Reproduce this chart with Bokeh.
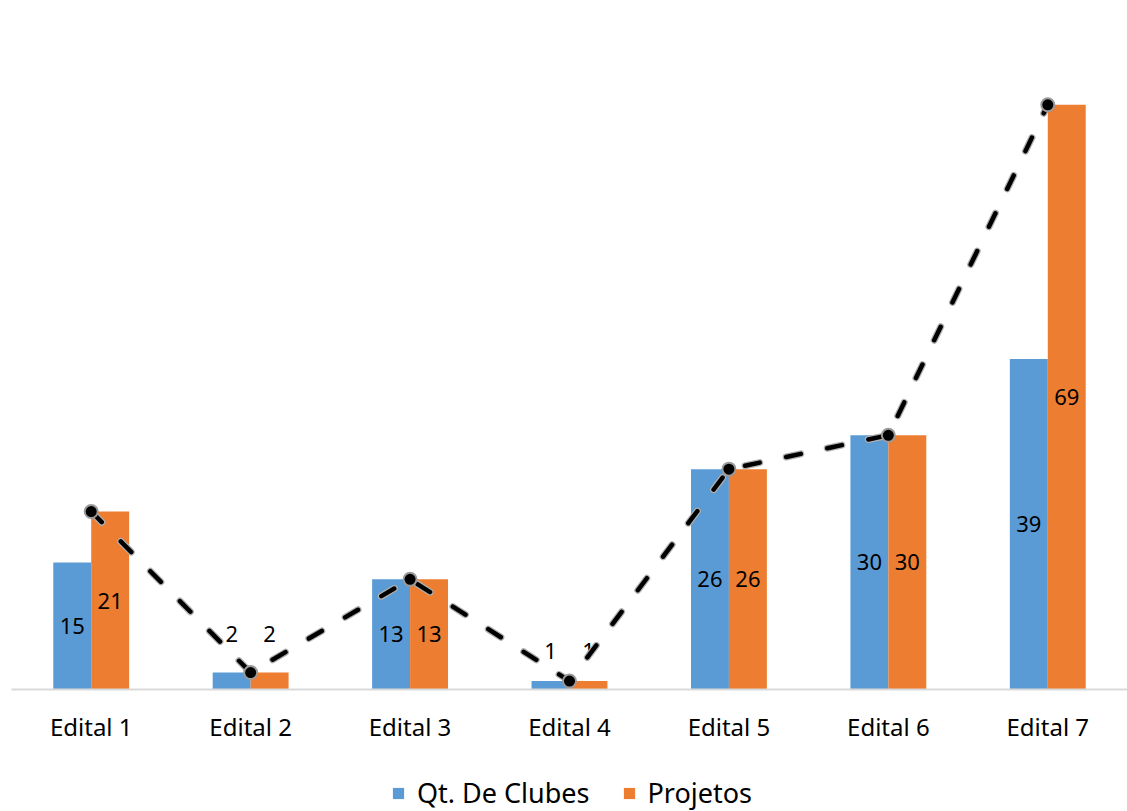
from bokeh.plotting import figure
from bokeh.models import ColumnDataSource, Legend, LegendItem, FactorRange, Range1d
from bokeh.layouts import column
from bokeh.transform import dodge
from bokeh.core.properties import value
from bokeh.embed import file_html
from bokeh.resources import INLINE

categories = ["Edital 1", "Edital 2", "Edital 3", "Edital 4", "Edital 5", "Edital 6", "Edital 7"]
clubes = [15, 2, 13, 1, 26, 30, 39]
projetos = [21, 2, 13, 1, 26, 30, 69]
series_names = ["Qt. De Clubes", "Projetos"]

BLUE = "#5B9BD5"
ORANGE = "#ED7D31"
FONT = "Noto Sans"

def label_pos(v):
    # centred in the bar, or lifted above very short bars
    return v / 2 if v >= 10 else 2 * v + 2.6

src = ColumnDataSource(dict(
    cat=categories,
    clubes=clubes,
    projetos=projetos,
    clubes_txt=[str(v) for v in clubes],
    projetos_txt=[str(v) for v in projetos],
    clubes_y=[label_pos(v) for v in clubes],
    projetos_y=[label_pos(v) for v in projetos],
))

p = figure(x_range=FactorRange(*categories, range_padding=0), y_range=(0, 78),
           frame_width=1116, frame_height=661, output_backend="svg", toolbar_location=None,
           y_axis_location=None, min_border_left=11, min_border_right=0,
           min_border_top=28, min_border_bottom=61)
p.outline_line_color = None
p.xgrid.grid_line_color = None
p.ygrid.grid_line_color = None

bw = 0.238
p.vbar(x=dodge("cat", -bw / 2, range=p.x_range), top="clubes", width=bw,
       source=src, fill_color=BLUE, line_color=None)
p.vbar(x=dodge("cat", bw / 2, range=p.x_range), top="projetos", width=bw,
       source=src, fill_color=ORANGE, line_color=None)

p.text(x=dodge("cat", -bw / 2, range=p.x_range), y="clubes_y", text="clubes_txt",
       source=src, text_align="center", text_baseline="middle",
       text_font=value(FONT), text_font_size="22px", text_color="#000000")
p.text(x=dodge("cat", bw / 2, range=p.x_range), y="projetos_y", text="projetos_txt",
       source=src, text_align="center", text_baseline="middle",
       text_font=value(FONT), text_font_size="22px", text_color="#000000")

p.line(x="cat", y="projetos", source=src, line_color="#b0b0b0", line_width=7,
       line_dash="15 27", line_cap="round")
p.line(x="cat", y="projetos", source=src, line_color="#000000", line_width=4.5,
       line_dash="15 27", line_cap="round")
p.scatter(x="cat", y="projetos", source=src, size=13, fill_color="#000000",
          line_color="#9a9a9a", line_width=2)

ax = p.xaxis[0]
ax.axis_line_color = "#D9D9D9"
ax.axis_line_width = 2
ax.major_tick_line_color = None
ax.minor_tick_line_color = None
ax.major_label_standoff = 14
ax.major_label_text_font = FONT
ax.major_label_text_font_size = "24px"
ax.major_label_text_color = "#000000"

# legend strip below the chart (its bars lie far below its visible y range)
lg = figure(width=1127, height=61, output_backend="svg", toolbar_location=None,
            x_range=p.x_range, y_range=Range1d(1000, 1001),
            x_axis_location=None, y_axis_location=None,
            min_border_left=0, min_border_right=0, min_border_top=0, min_border_bottom=0)
lg.outline_line_color = None
lg.xgrid.grid_line_color = None
lg.ygrid.grid_line_color = None
lb = lg.vbar(x=dodge("cat", -bw / 2, range=p.x_range), top="clubes", width=bw,
             source=src, fill_color=BLUE, line_color=None)
lo = lg.vbar(x=dodge("cat", bw / 2, range=p.x_range), top="projetos", width=bw,
             source=src, fill_color=ORANGE, line_color=None)
legend = Legend(items=[LegendItem(label=series_names[0], renderers=[lb]),
                       LegendItem(label=series_names[1], renderers=[lo])],
                orientation="horizontal", location=(380, 0),
                label_text_font=FONT, label_text_font_size="27px",
                label_text_color="#000000", glyph_width=14, glyph_height=14,
                label_standoff=12, spacing=32, border_line_color=None,
                background_fill_alpha=0, padding=0, margin=0)
lg.add_layout(legend, "center")

layout = column(p, lg, spacing=0)
open("out.html", "w").write(file_html(layout, INLINE))
